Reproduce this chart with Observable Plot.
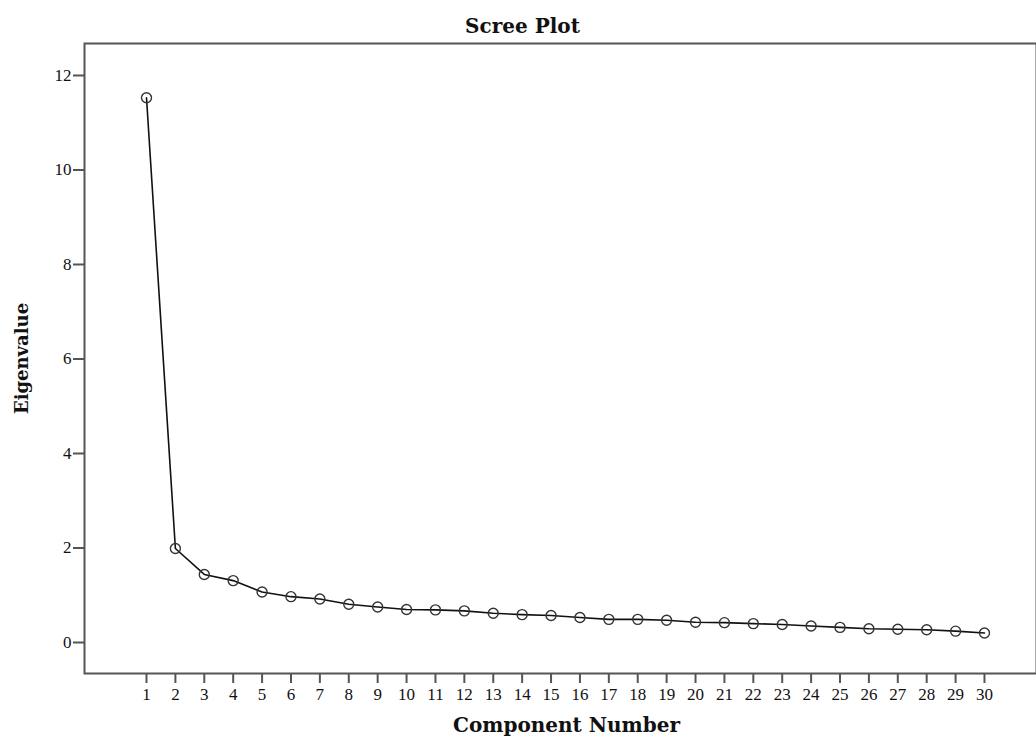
<!DOCTYPE html>
<html>
<head>
<meta charset="utf-8">
<script src="https://cdn.jsdelivr.net/npm/d3@7"></script>
<script src="https://cdn.jsdelivr.net/npm/@observablehq/plot@0.6"></script>
<style>
  html, body { margin: 0; padding: 0; background: #fff; }
  #chart svg { display: block; }
</style>
</head>
<body>
<div id="chart"></div>
<script>
const components = d3.range(1, 31);
const eigenvalues = [11.53, 1.99, 1.44, 1.31, 1.07, 0.97, 0.92, 0.81, 0.75, 0.70,
                     0.69, 0.67, 0.62, 0.59, 0.57, 0.53, 0.49, 0.49, 0.47, 0.43,
                     0.42, 0.40, 0.38, 0.35, 0.32, 0.29, 0.28, 0.27, 0.24, 0.20];
const yTicks = [0, 2, 4, 6, 8, 10, 12];
const titleText = "Scree Plot";
const xLabel = "Component Number";
const yLabel = "Eigenvalue";

const data = components.map((c, i) => ({c, v: eigenvalues[i]}));

const serif = "'Liberation Serif', 'Times New Roman', serif";
const boldSerif = "'DejaVu Serif', serif";

const chart = Plot.plot({
  width: 1036,
  height: 740,
  marginLeft: 84,
  marginTop: 43,
  marginBottom: 67,
  marginRight: 0,
  style: {fontFamily: serif, background: "#fff", color: "#111"},
  x: {domain: [-1.1455, 31.8], axis: null},
  y: {domain: [-0.656, 12.677], axis: null},
  marks: [
    Plot.frame({stroke: "#555", strokeWidth: 2}),
    Plot.axisY({ticks: yTicks, tickSize: 11, tickPadding: 2, fontSize: 17, stroke: "#555", strokeWidth: 2, label: null, tickFormat: d => String(d)}),
    Plot.axisX({ticks: components, tickSize: 10, tickPadding: 4, fontSize: 17, stroke: "#555", strokeWidth: 2, label: null, tickFormat: d => String(d)}),
    Plot.line(data, {x: "c", y: "v", stroke: "#111", strokeWidth: 1.6}),
    Plot.dot(data, {x: "c", y: "v", r: 5, stroke: "#333", strokeWidth: 1.4, fill: "none"}),
    Plot.text([titleText], {frameAnchor: "top", lineAnchor: "middle", textAnchor: "middle", dx: -38, dy: -17, fontSize: 20, fontWeight: "bold", fontFamily: boldSerif, fill: "#111"}),
    Plot.text([xLabel], {frameAnchor: "bottom", lineAnchor: "middle", textAnchor: "middle", dx: 6, dy: 52, fontSize: 20, fontWeight: "bold", fontFamily: boldSerif, fill: "#111"}),
    Plot.text([yLabel], {frameAnchor: "left", lineAnchor: "middle", textAnchor: "middle", dx: -62, rotate: -90, fontSize: 18, fontWeight: "bold", fontFamily: boldSerif, fill: "#111"})
  ]
});
document.getElementById("chart").append(chart);
</script>
</body>
</html>
